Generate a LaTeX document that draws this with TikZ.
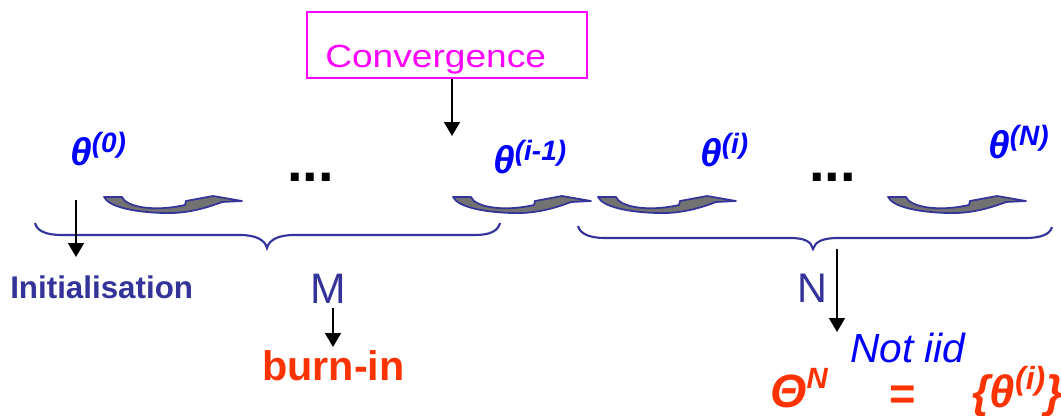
\documentclass[tikz,border=0pt]{standalone}
\usepackage{fontspec}
\setmainfont{Liberation Sans}
\usetikzlibrary{arrows.meta}
\definecolor{dblue}{HTML}{333399}
\definecolor{tblue}{HTML}{0000FF}
\definecolor{ored}{HTML}{FF3300}
\definecolor{mag}{HTML}{FF00FF}
\definecolor{agray}{HTML}{727272}
\newcommand{\fs}[1]{\fontsize{#1}{#1}\selectfont}
\newcommand{\thlab}[1]{\textbf{\textit{\fs{29pt}θ\raisebox{9.75pt}{\fs{21pt}#1}}}}
\tikzset{
  arr/.style={-{Triangle[width=12pt,length=10.5pt]}, line width=1.2pt, black},
  bracestyle/.style={dblue, line width=1.6pt},
  txt/.style={inner sep=0pt, anchor=base west},
  carrow/.pic={
    \filldraw[fill=agray, draw=dblue, line width=1.3pt, line join=round]
      (0,0) -- (18,0) .. controls (22,10) and (50,15) .. (81,8)
      -- (82,4) -- (109,-1) -- (138,4) -- (118,5)
      .. controls (100,12) and (80,17) .. (58,16)
      .. controls (30,15) and (5,10) .. (0,0) -- cycle;
  }
}
\begin{document}
\begin{tikzpicture}[x=0.75pt,y=-0.75pt]
\useasboundingbox (0,0) rectangle (1061,415);

% Convergence box
\node[draw=mag, line width=1.5pt, minimum width=210pt, minimum height=49.5pt, inner sep=0pt] (conv) at (447,45) {};
\node[txt, mag] (convt) at (325,67) {\fs{24pt}\scalebox{1.16}[1]{Convergence}};
\coordinate (cvend) at (452,136);
\draw[arr] (conv.south -| cvend) -- (cvend);

% theta labels
\node[txt, tblue] (t0) at (70,165) {\thlab{(0)}};
\node[txt, tblue] (t1) at (493,173) {\thlab{(i-1)}};
\node[txt, tblue] (t2) at (700,166) {\thlab{(i)}};
\node[txt, tblue] (t3) at (988,158) {\thlab{(N)}};

% dots
\node[txt] (d1) at (287,181) {\fs{42pt}\textbf{...}};
\node[txt] (d2) at (809,181) {\fs{42pt}\textbf{...}};

% curved arrows
\pic at (104,197) {carrow};
\pic at (453,197) {carrow};
\pic at (598,197) {carrow};
\pic at (888,197) {carrow};

% braces
\draw[bracestyle] (35,223) .. controls (37,231) and (46,235) .. (62,235) -- (240,235)
  .. controls (256,235) and (265,240) .. (267,248)
  .. controls (269,240) and (278,235) .. (294,235) -- (475,235)
  .. controls (490,235) and (498,231) .. (500,223);
\draw[bracestyle] (578,226) .. controls (580,234) and (590,238) .. (605,238) -- (790,238)
  .. controls (806,238) and (811,242) .. (813,249)
  .. controls (815,242) and (822,238) .. (838,238) -- (1025,238)
  .. controls (1042,238) and (1050,234) .. (1052,227);

% lower texts
\node[txt, dblue] (init) at (10,298) {\fs{23.5pt}\textbf{Initialisation}};
\node[txt, dblue] (M) at (310,303) {\fs{32pt}M};
\node[txt, ored] (burn) at (262,380) {\fs{31pt}\textbf{burn-in}};
\node[txt, dblue] (N) at (797,302) {\fs{31pt}N};
\node[txt, tblue] (niid) at (850,362) {\fs{30.5pt}\textit{Not iid}};
\node[txt, ored] (TN) at (770,407) {\fs{35pt}\textbf{\textit{Θ\raisebox{14pt}{\fs{22pt}N}}}};
\node[txt, ored] (eq) at (889,409) {\fs{34pt}\textbf{=}};
\node[txt, ored] (set) at (972,407) {\fs{34pt}\textbf{\textit{\{θ\raisebox{13pt}{\fs{24pt}(i)}\}}}};

% black arrows
\coordinate (i0) at (76,200);
\coordinate (i1) at (76,257);
\draw[arr] (i0) -- (i1);
\coordinate (m0) at (333,308);
\coordinate (m1) at (333,347);
\draw[arr] (m0) -- (m1);
\coordinate (n0) at (837,249);
\coordinate (n1) at (837,332);
\draw[arr] (n0) -- (n1);
\end{tikzpicture}
\end{document}
